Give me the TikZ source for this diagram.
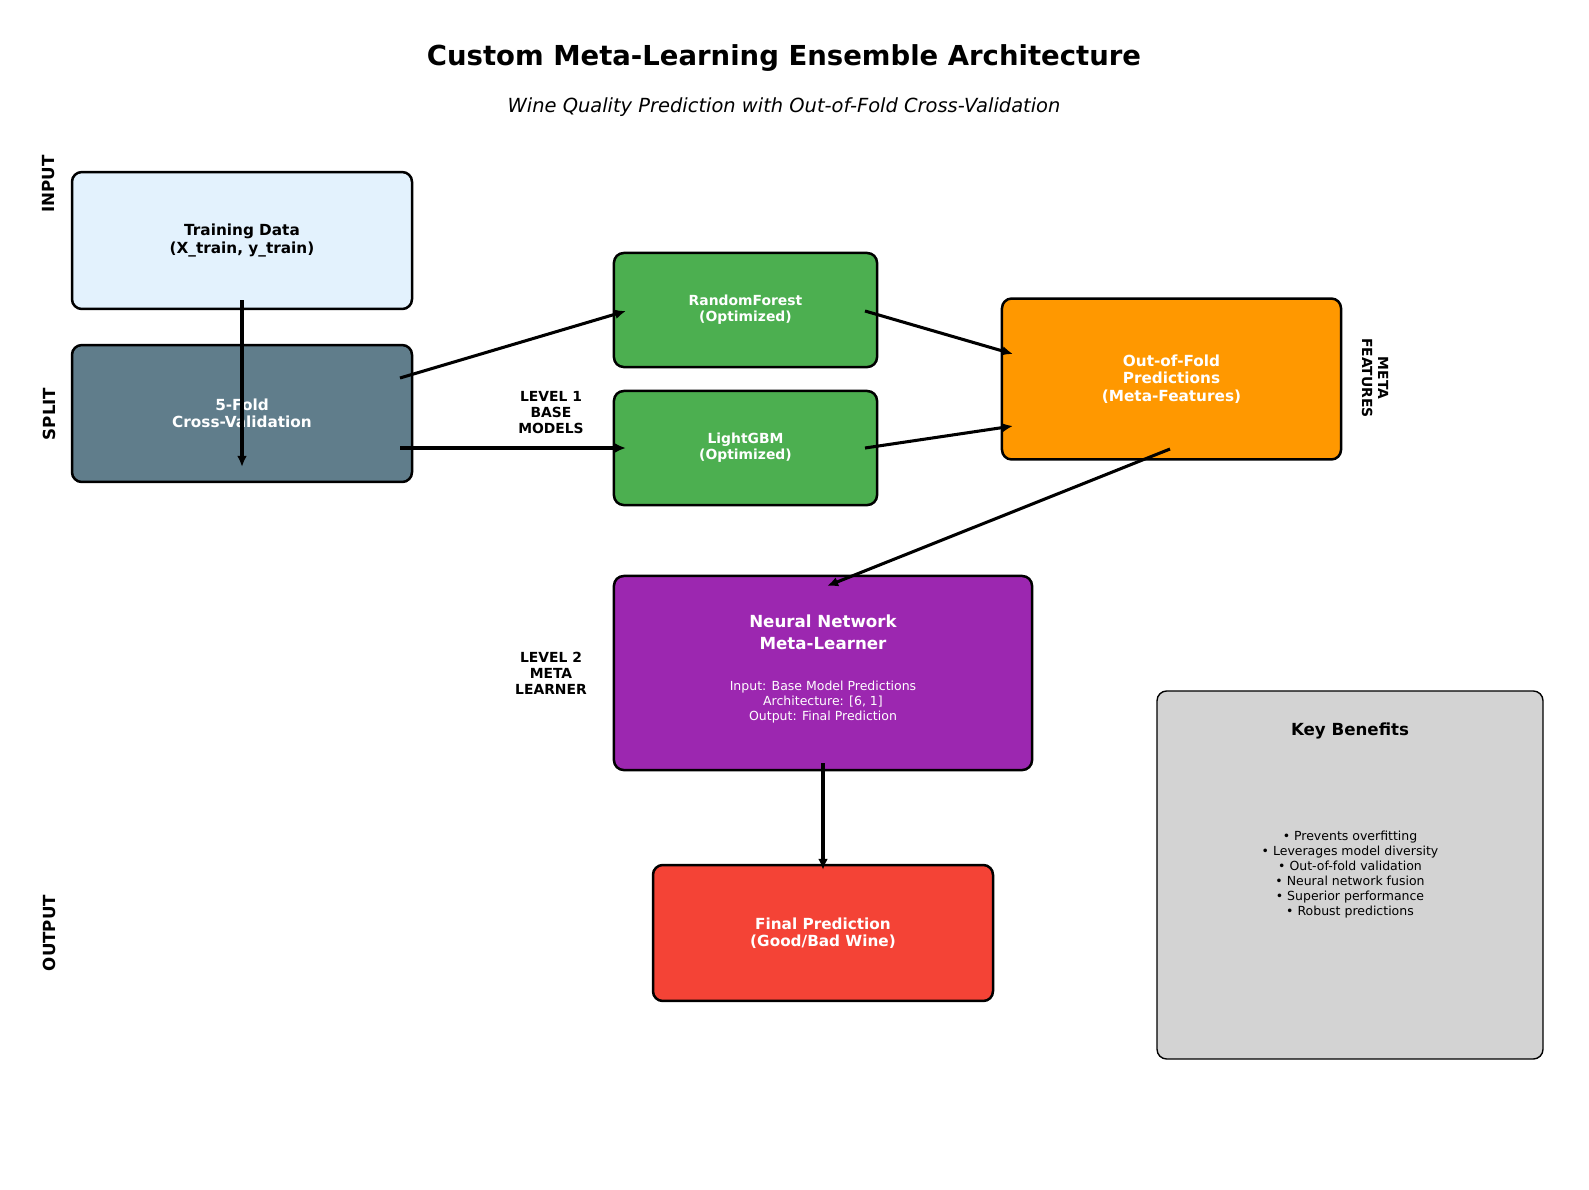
\documentclass[tikz,border=0pt]{standalone}
\usepackage{fontspec}
\setmainfont{DejaVu Sans}
\usetikzlibrary{arrows.meta}
\usetikzlibrary{positioning}

\definecolor{inputblue}{HTML}{E3F2FD}
\definecolor{splitgray}{HTML}{607D8B}
\definecolor{basegreen}{HTML}{4CAF50}
\definecolor{ooforange}{HTML}{FF9800}
\definecolor{metapurple}{HTML}{9C27B0}
\definecolor{finalred}{HTML}{F44336}
\definecolor{notegray}{HTML}{D3D3D3}

\tikzset{
  box/.style={draw=black, line width=1.8pt, rounded corners=7pt, inner sep=0pt, align=center, font=\bfseries\fontsize{11}{12.5}\selectfont},
  sidelabel/.style={rotate=90, font=\bfseries\fontsize{12}{14}\selectfont},
  levellabel/.style={align=center, font=\bfseries\fontsize{10}{11.5}\selectfont},
  flow/.style={line width=2.2pt, -{Latex[length=8pt,width=7pt]}}
}

\begin{document}
\begin{tikzpicture}[x=0.72pt, y=-0.72pt]
	\useasboundingbox (0,0) rectangle (1589,1190);
	% titles
	\node (title) at (784,58) {\bfseries\fontsize{19.8}{24}\selectfont Custom Meta-Learning Ensemble Architecture};
	\node (subtitle) at (784,107) {\itshape\fontsize{14}{17}\selectfont Wine Quality Prediction with Out-of-Fold Cross-Validation};
	% stage labels
	\node[sidelabel] (input) at (49,184) {INPUT};
	\node[sidelabel] (split) at (49,414) {SPLIT};
	\node[sidelabel] (output) at (49,933) {OUTPUT};
	\node[levellabel] (level1) at (551,413) {LEVEL 1\\BASE\\MODELS};
	\node[levellabel] (level2) at (551,673) {LEVEL 2\\META\\LEARNER};
	\node[levellabel, rotate=-90] (metafeat) at (1375,378) {META\\FEATURES};
	% boxes
	\begin{scope}[every node/.append style={box}]
		\node[fill=inputblue, minimum width=244.8pt, minimum height=98.6pt] (train) at (242,240.5) {Training Data\\(X\_train, y\_train)};
		\node[fill=splitgray, text=white, minimum width=244.8pt, minimum height=98.6pt] (cv) at (242,413.5) {5-Fold\\Cross-Validation};
		\node[fill=basegreen, text=white, minimum width=189.4pt, minimum height=82.1pt, font=\bfseries\fontsize{10}{11.5}\selectfont] (rf) at (745.5,310) {RandomForest\\(Optimized)};
		\node[fill=basegreen, text=white, minimum width=189.4pt, minimum height=82.1pt, font=\bfseries\fontsize{10}{11.5}\selectfont] (lgbm) at (745.5,448) {LightGBM\\(Optimized)};
		\node[fill=ooforange, text=white, minimum width=244.1pt, minimum height=115.9pt] (oof) at (1171.5,379) {Out-of-Fold\\Predictions\\(Meta-Features)};
		\node[fill=metapurple, minimum width=301pt, minimum height=139.7pt] (meta) at (823,673) {};
		\node[fill=finalred, text=white, minimum width=244.8pt, minimum height=97.9pt] (final) at (823,933) {Final Prediction\\(Good/Bad Wine)};
		\node[fill=notegray, line width=1pt, minimum width=277.9pt, minimum height=265pt] (benefits) at (1350,875) {};
	\end{scope}
	% texts inside the meta learner and the notes
	\node[text=white, align=center, font=\bfseries\fontsize{12}{16}\selectfont] (metatitle) at (823,632) {Neural Network\\Meta-Learner};
	\node[text=white, align=center, font=\fontsize{9}{10.5}\selectfont] (metainfo) at (823,702) {Input: Base Model Predictions\\Architecture: [6, 1]\\Output: Final Prediction};
	\node[font=\bfseries\fontsize{12}{14}\selectfont] (benefitstitle) at (1350,731) {Key Benefits};
	\node[align=center, font=\fontsize{9}{10.8}\selectfont] (benefitslist) at (1350,875) {• Prevents overfitting\\• Leverages model diversity\\• Out-of-fold validation\\• Neural network fusion\\• Superior performance\\• Robust predictions};
	% arrow ends
	\coordinate (train out) at (242,300);
	\coordinate (cv in) at (242,467);
	\coordinate (cv up) at (400,378);
	\coordinate (cv down) at (400,448);
	\coordinate (rf in) at (626,311);
	\coordinate (lgbm in) at (626,448);
	\coordinate (rf out) at (865,311);
	\coordinate (lgbm out) at (865,448);
	\coordinate (oof in up) at (1013,354);
	\coordinate (oof in down) at (1013,426);
	\coordinate (oof out) at (1170,449);
	\coordinate (meta in) at (827,586);
	\coordinate (meta out) at (823,763);
	\coordinate (final in) at (823,870);
	% arrows
	\draw[flow] (train out) -- (cv in);
	\draw[flow] (cv up) -- (rf in);
	\draw[flow] (cv down) -- (lgbm in);
	\draw[flow] (rf out) -- (oof in up);
	\draw[flow] (lgbm out) -- (oof in down);
	\draw[flow] (oof out) -- (meta in);
	\draw[flow] (meta out) -- (final in);
\end{tikzpicture}
\end{document}
